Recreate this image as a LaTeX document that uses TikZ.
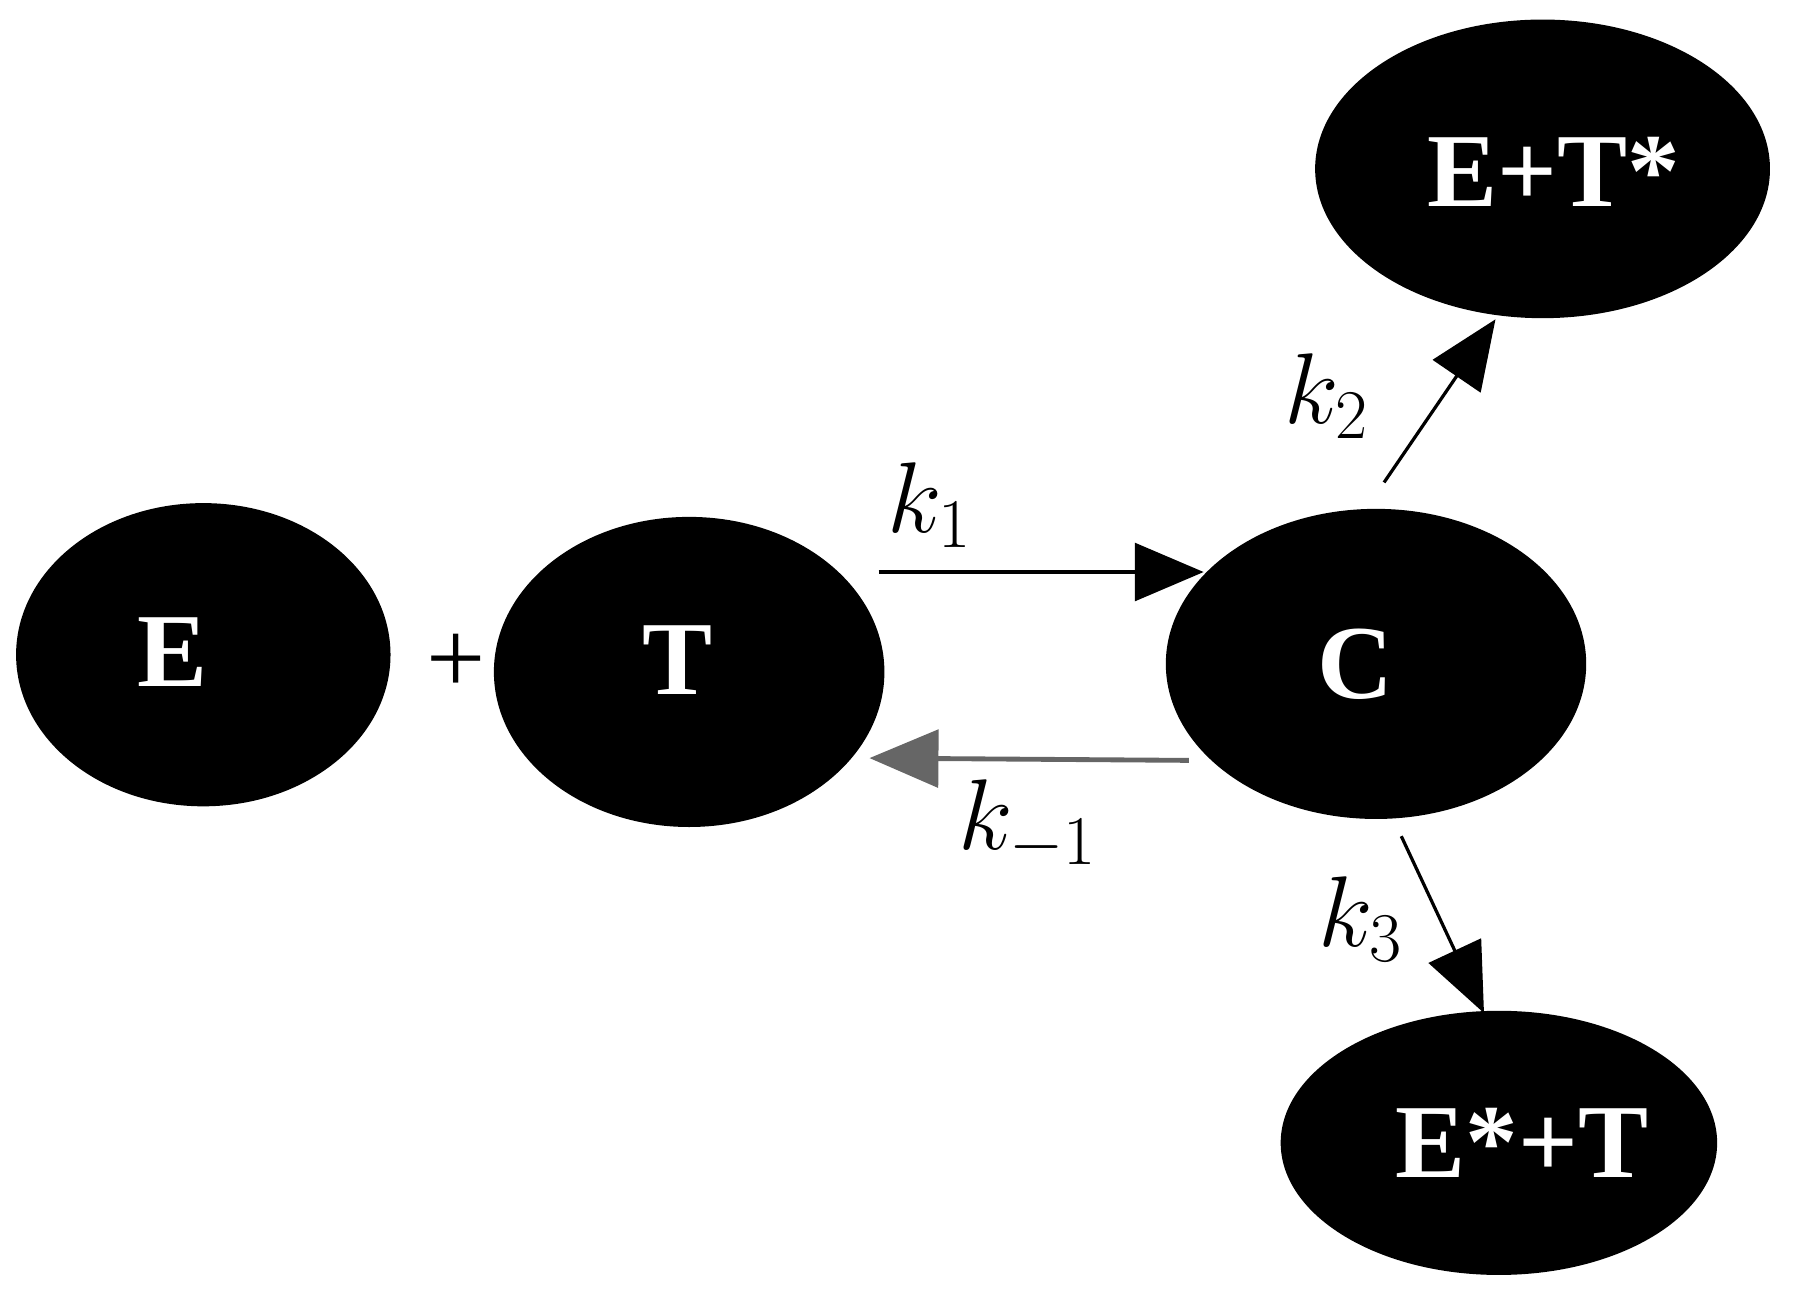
\documentclass[tikz,border=0pt]{standalone}
\usepackage{fontspec}
\setmainfont{Liberation Serif}
\usetikzlibrary{arrows.meta}
\begin{document}
\begin{tikzpicture}[x=0.01cm,y=-0.01cm,
  blob/.style={ellipse,fill=black,draw=black,text=white,font=\bfseries\fontsize{26}{30}\selectfont,inner sep=0pt},
  rarr/.style={line width=1.2pt,-{Triangle[length=0.6cm,width=0.5cm]}},
  klab/.style={font=\fontsize{26}{30}\selectfont}]
\useasboundingbox (0,0) rectangle (1568,1135);
\fill[black] (177,570) ellipse [x radius=163,y radius=132];
\node[text=white,font=\bfseries\fontsize{26}{30}\selectfont] (E) at (150,568) {E};
\fill[black] (600,585) ellipse [x radius=170,y radius=135];
\node[text=white,font=\bfseries\fontsize{26}{30}\selectfont] (T) at (590,575) {T};
\fill[black] (1198,578) ellipse [x radius=183,y radius=135];
\node[text=white,font=\bfseries\fontsize{26}{30}\selectfont] (C) at (1180,578) {C};
\fill[black] (1343,147) ellipse [x radius=198,y radius=130];
\node[text=white,font=\bfseries\fontsize{26}{30}\selectfont] (P1) at (1353,150) {E+T*};
\fill[black] (1305,995) ellipse [x radius=190,y radius=115];
\node[text=white,font=\bfseries\fontsize{26}{30}\selectfont] (P2) at (1325,995) {E*+T};
\node[klab] (plus) at (397,578) {+};
\coordinate (a1) at (765,498); \coordinate (b1) at (1048,498);
\draw[rarr] (a1) -- (b1);
\node[klab] (k1) at (810,440) {$k_1$};
\coordinate (a2) at (1035,662); \coordinate (b2) at (757,660);
\draw[rarr,draw=black!60] (a2) -- (b2);
\node[klab] (km1) at (895,718) {$k_{-1}$};
\coordinate (a3) at (1205,420); \coordinate (b3) at (1302,278);
\draw[rarr,line width=0.8pt] (a3) -- (b3);
\node[klab] (k2) at (1155,345) {$k_2$};
\coordinate (a4) at (1220,728); \coordinate (b4) at (1292,882);
\draw[rarr,line width=0.8pt] (a4) -- (b4);
\node[klab] (k3) at (1185,800) {$k_3$};
\end{tikzpicture}
\end{document}
